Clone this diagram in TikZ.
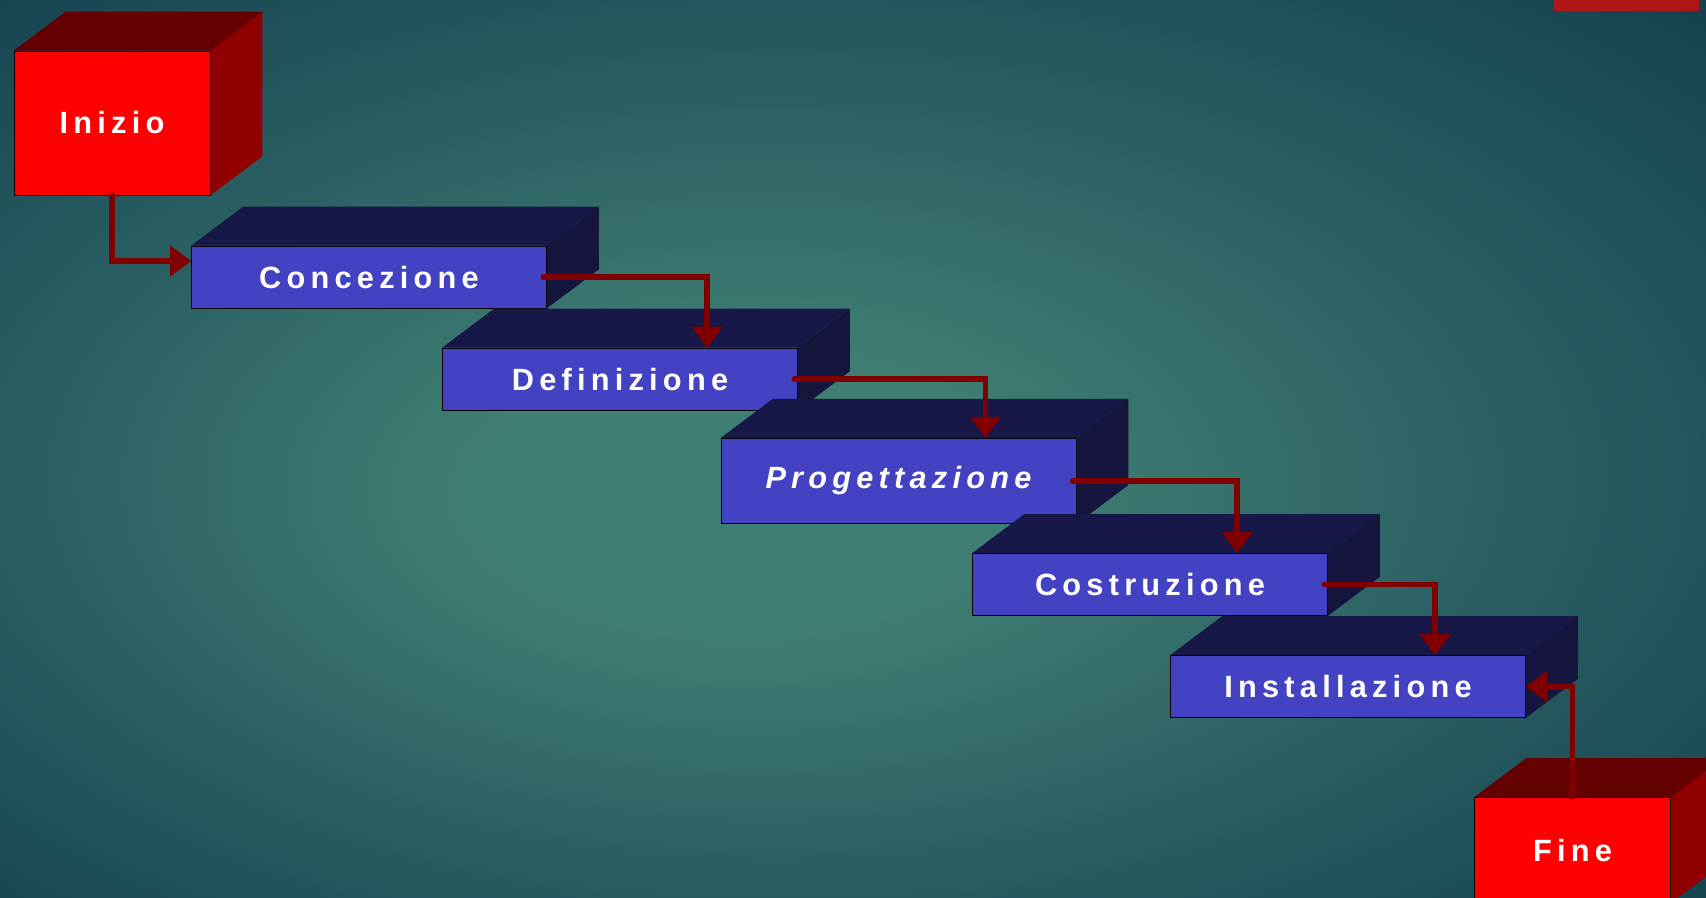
\documentclass[tikz,border=0pt]{standalone}
\usepackage{fontspec}
\setmainfont{Liberation Sans}
\newfontfamily\trackfont[LetterSpace=17]{Liberation Sans}
\usetikzlibrary{arrows.meta}
\definecolor{bgdark}{HTML}{164250}
\definecolor{bgmid}{HTML}{2B6063}
\definecolor{bglight}{HTML}{3F7E72}
\definecolor{boxred}{HTML}{FF0000}
\definecolor{redtop}{HTML}{650000}
\definecolor{redside}{HTML}{910000}
\definecolor{boxblue}{HTML}{4242C2}
\definecolor{bluetop}{HTML}{171748}
\definecolor{blueside}{HTML}{15153E}
\definecolor{arrowred}{HTML}{800000}
\definecolor{barred}{HTML}{B01717}
\pgfdeclareradialshading{glow}{\pgfpoint{-4bp}{-3bp}}{color(0bp)=(bglight); color(8bp)=(bglight); color(21bp)=(bgmid); color(36bp)=(bgdark); color(50bp)=(bgdark)}

\begin{document}
\begin{tikzpicture}[x=0.02cm, y=-0.02cm,
    phase/.style={draw=black, thin, fill=boxblue, text=white, minimum width=7.1cm, minimum height=1.24cm, inner sep=0pt, font=\trackfont\bfseries\fontsize{17.5}{20}\selectfont},
    endpoint/.style={phase, fill=boxred, minimum width=3.92cm, minimum height=2.88cm},
    flow/.style={draw=arrowred, line width=3.2pt, line cap=round, -{Triangle[length=12pt, width=17pt]}}]
  \useasboundingbox (0,0) rectangle (1706,897);
  \clip (0,0) rectangle (1706,897);
  \shade[shading=glow] (0,0) rectangle (1706,897);
  \fill[barred] (1554,0) rectangle (1699,11);

  \node[endpoint] (init) at (112,123) {Inizio};
  \node[phase] (conc) at (369,277) {Concezione};
  \node[phase] (defi) at (620,379) {Definizione};
  \node[phase, minimum height=1.71cm, font=\trackfont\bfseries\itshape\fontsize{17.5}{20}\selectfont] (prog) at (898.5,481) {Progettazione};
  \node[phase] (cost) at (1150,584.5) {Costruzione};
  \node[phase] (inst) at (1348,686.5) {Installazione};
  \node[endpoint, minimum height=2.1cm] (fine) at (1572.5,850) {Fine};

  % depth faces
  \foreach \n/\t/\s in {init/redtop/redside, conc/bluetop/blueside, defi/bluetop/blueside, prog/bluetop/blueside, cost/bluetop/blueside, inst/bluetop/blueside, fine/redtop/redside} {
    \fill[\t] (\n.north west) -- ([shift={(52,-39)}]\n.north west) -- ([shift={(52,-39)}]\n.north east) -- (\n.north east) -- cycle;
    \fill[\s] (\n.north east) -- ([shift={(52,-39)}]\n.north east) -- ([shift={(52,-39)}]\n.south east) -- (\n.south east) -- cycle;
  }

  \draw[flow] (init.south) |- ([shift={(0,-16)}]conc.west);
  \draw[flow] ([xshift=-2pt]conc.east) -| ([shift={(87,0)}]defi.north);
  \draw[flow] ([xshift=-2pt]defi.east) -| ([shift={(87,0)}]prog.north);
  \draw[flow] ([xshift=-2pt]prog.east) -| ([shift={(87,0)}]cost.north);
  \draw[flow] ([xshift=-2pt]cost.east) -| ([shift={(87,0)}]inst.north);
  \draw[flow] (fine.north) |- (inst.east);
\end{tikzpicture}
\end{document}
